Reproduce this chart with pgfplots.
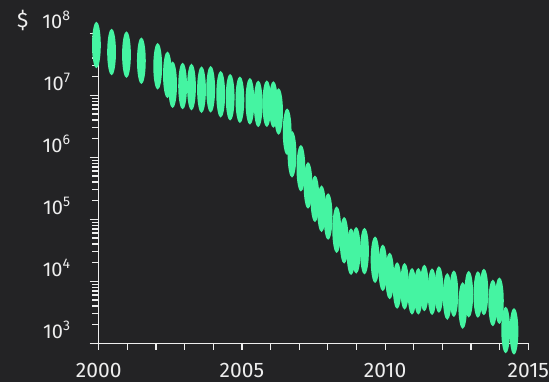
\documentclass[border=0pt]{standalone}
\usepackage{pgfplots}
\pgfplotsset{compat=1.18}
\usepackage{fontspec}
\setmainfont{Fira Sans}

\definecolor{bg}{HTML}{232325}
\definecolor{fg}{HTML}{EEEEEE}
\definecolor{mint}{HTML}{45F4A2}

% tall, narrow ellipse used as the marker
\pgfdeclareplotmark{vellipse}{%
  \pgfpathellipse{\pgfpointorigin}{\pgfpoint{4.4bp}{0pt}}{\pgfpoint{0pt}{23.3bp}}%
  \pgfusepathqfill}

\pgfplotstableread{
year     price
1999.92  6.47e7
2000.45  4.99e7
2000.97  4.52e7
2001.49  3.61e7
2002.06  2.94e7
2002.40  2.14e7
2002.58  1.48e7
2002.93  1.41e7
2003.24  1.36e7
2003.59  1.23e7
2003.91  1.25e7
2004.26  1.04e7
2004.59  9.29e6
2004.93  8.49e6
2005.28  8.00e6
2005.57  7.29e6
2005.87  7.32e6
2006.10  7.11e6
2006.28  5.48e6
2006.58  2.58e6
2006.75  1.12e6
2007.06  6.67e5
2007.31  3.52e5
2007.55  2.14e5
2007.78  1.48e5
2008.01  1.11e5
2008.31  6.79e4
2008.57  4.58e4
2008.81  3.00e4
2008.99  3.16e4
2009.28  3.07e4
2009.65  2.23e4
2009.92  1.65e4
2010.16  1.22e4
2010.42  8.55e3
2010.68  8.30e3
2010.94  6.90e3
2011.16  6.90e3
2011.37  7.80e3
2011.64  6.80e3
2011.88  7.37e3
2012.17  5.69e3
2012.40  6.31e3
2012.71  4.07e3
2012.92  6.19e3
2013.24  6.12e3
2013.45  6.72e3
2013.76  4.47e3
2013.99  4.86e3
2014.21  1.64e3
2014.50  1.56e3
}\pricedata

\begin{document}
\begin{tikzpicture}
\fill[bg] (0,0) rectangle (549bp,382bp);
\useasboundingbox (0,0) rectangle (549bp,382bp);
\begin{axis}[
  at={(98.7bp,38.7bp)}, anchor=south west,
  scale only axis, width=429.6bp, height=310bp,
  ymode=log, log basis y=10,
  xmin=2000, xmax=2015, ymin=1e3, ymax=1e8,
  clip=false,
  axis lines=left,
  axis line style={-, fg, line width=1.5bp},
  tick align=outside,
  tick style={fg, line width=1.2bp},
  major tick length=9bp, minor tick length=6.5bp,
  xtick={2000,2005,2010,2015},
  xticklabels={2000,2005,2010,2015},
  minor xtick={2000,2001,...,2015},
  major x tick style={draw=none},
  xticklabel style={font=\fontsize{21bp}{24bp}\selectfont, text=fg, anchor=base, inner sep=0pt, yshift=-25bp},
  ytick={1e3,1e4,1e5,1e6,1e7,1e8},
  minor ytick={2e3,3e3,4e3,5e3,6e3,7e3,8e3,9e3,
               2e4,3e4,4e4,5e4,6e4,7e4,8e4,9e4,
               2e5,3e5,4e5,5e5,6e5,7e5,8e5,9e5,
               2e6,3e6,4e6,5e6,6e6,7e6,8e6,9e6,
               2e7,3e7,4e7,5e7,6e7,7e7,8e7,9e7},
  yticklabels={10\textsuperscript{3},10\textsuperscript{4},10\textsuperscript{5},
               10\textsuperscript{6},10\textsuperscript{7},10\textsuperscript{8}},
  yticklabel style={font=\fontsize{20bp}{24bp}\selectfont, text=fg, anchor=base east, inner sep=0pt, xshift=-19bp, yshift=5bp},
  ylabel={\$},
  every axis y label/.style={at={(rel axis cs:0,1)}, anchor=base, xshift=-76bp, yshift=6bp,
    font=\fontsize{21bp}{24bp}\selectfont, text=fg},
]
\addplot[only marks, mark=vellipse, mint] table[x=year, y=price] {\pricedata};
\end{axis}
\end{tikzpicture}
\end{document}
